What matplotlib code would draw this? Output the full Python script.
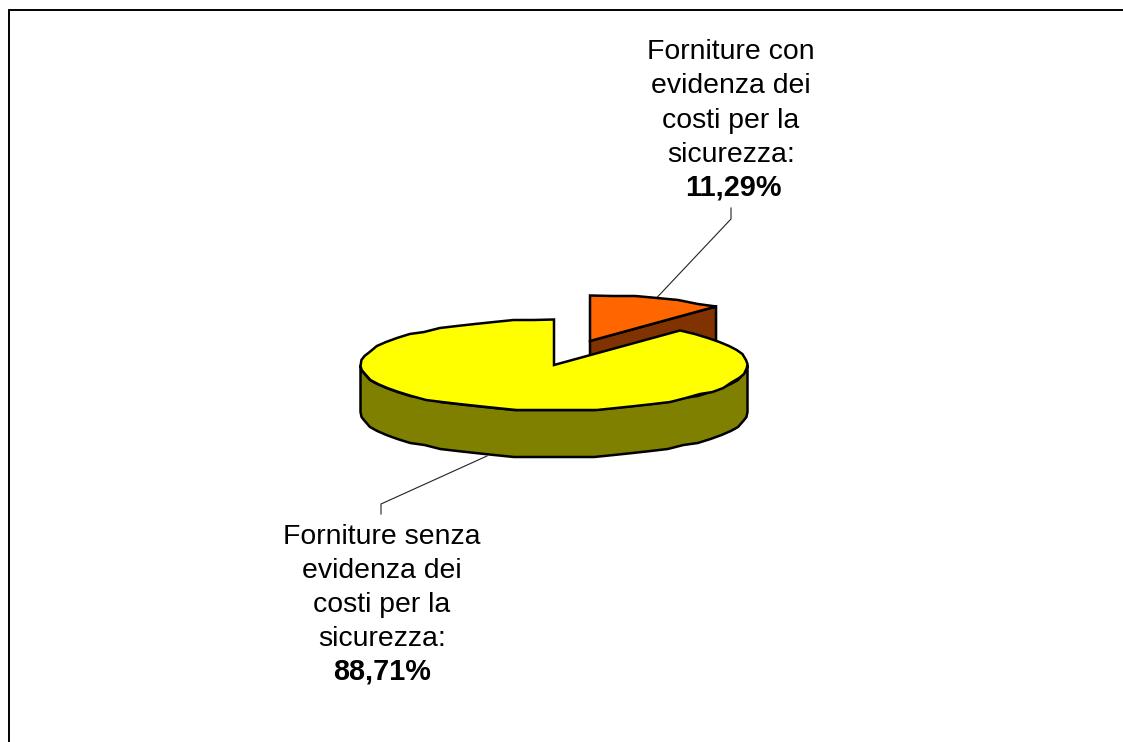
import numpy as np
import matplotlib
matplotlib.use('Agg')
import matplotlib.pyplot as plt

labels_small = ['Forniture con', 'evidenza dei', 'costi per la', 'sicurezza:']
labels_big = ['Forniture senza', 'evidenza dei', 'costi per la', 'sicurezza:']
percents = [11.29, 88.71]
pct_labels = ['11,29%', '88,71%']

top_colors = ['#FF6600', '#FFFF00']
side_colors = ['#803300', '#808000']

W, H = 1123, 742
cx, cy = 554, 365
rx, ry = 193.5, 45.5
depth = 47
explode = (36, -24)


def arc(a0, a1, dx=0, dy=0, step=6):
    n = max(int(abs(a1 - a0) / step), 2)
    t = np.radians(np.linspace(a0, a1, n + 1))
    x = cx + rx * np.cos(t)
    y = cy - ry * np.sin(t)
    # the outline of the original is a bit coarse
    y[1:-1] = np.round(y[1:-1] / 2) * 2
    return x + dx, y + dy


plt.rcParams['font.family'] = ['Liberation Sans', 'DejaVu Sans']
fig = plt.figure(figsize=(W / 100, H / 100), dpi=100)
ax = fig.add_axes([0, 0, 1, 1])
ax.set_xlim(0, W)
ax.set_ylim(H, 0)
ax.axis('off')

# frame: only top and left show
ax.plot([9, 9, W + 5], [H + 5, 9.5, 9.5], color='black', lw=1.4, solid_joinstyle='miter')

# angle taken by the small slice, the big one fills the rest
small = percents[0] / sum(percents) * 360
start = 90 - small

# small slice, pulled out
dx, dy = explode
ax_x, ax_y = cx + dx, cy + dy
ex, ey = arc(start, 90, dx, dy)
ax.fill([ax_x, ex[0], ex[0], ax_x], [ax_y, ey[0], ey[0] + depth, ax_y + depth],
        facecolor=side_colors[0], edgecolor='black', lw=1.8, zorder=2)
ax.fill(np.r_[ax_x, ex], np.r_[ax_y, ey], facecolor=top_colors[0], edgecolor='black', lw=1.8,
        joinstyle='miter', zorder=3)

# big slice, side first
sx, sy = arc(180, 360)
ax.fill(np.r_[sx, sx[::-1]], np.r_[sy, sy[::-1] + depth], facecolor=side_colors[1], edgecolor='black',
        lw=1.8, zorder=4)
bx, by = arc(90, 360 + start)
ax.fill(np.r_[cx, bx], np.r_[cy, by], facecolor=top_colors[1], edgecolor='black', lw=1.8,
        joinstyle='miter', zorder=5)

# leader lines
ax.plot([731, 731, 656.5], [208, 219, 298], color='#222222', lw=0.8, zorder=1)
ax.plot([381, 381, 487], [514, 504, 456], color='#222222', lw=0.8, zorder=1)

# labels, one text per line so the spacing stays put
for line, y in zip(labels_small, [59, 93, 127.5, 162]):
    ax.text(731, y, line, ha='center', va='baseline', fontsize=20.4)
ax.text(733, 196, pct_labels[0], ha='center', va='baseline', fontsize=20.8, fontweight='bold')
for line, y in zip(labels_big, [544, 578, 612, 645.5]):
    ax.text(382, y, line, ha='center', va='baseline', fontsize=20.4)
ax.text(382.5, 680, pct_labels[1], ha='center', va='baseline', fontsize=20.8, fontweight='bold')

fig.savefig('out.png', dpi=100)
